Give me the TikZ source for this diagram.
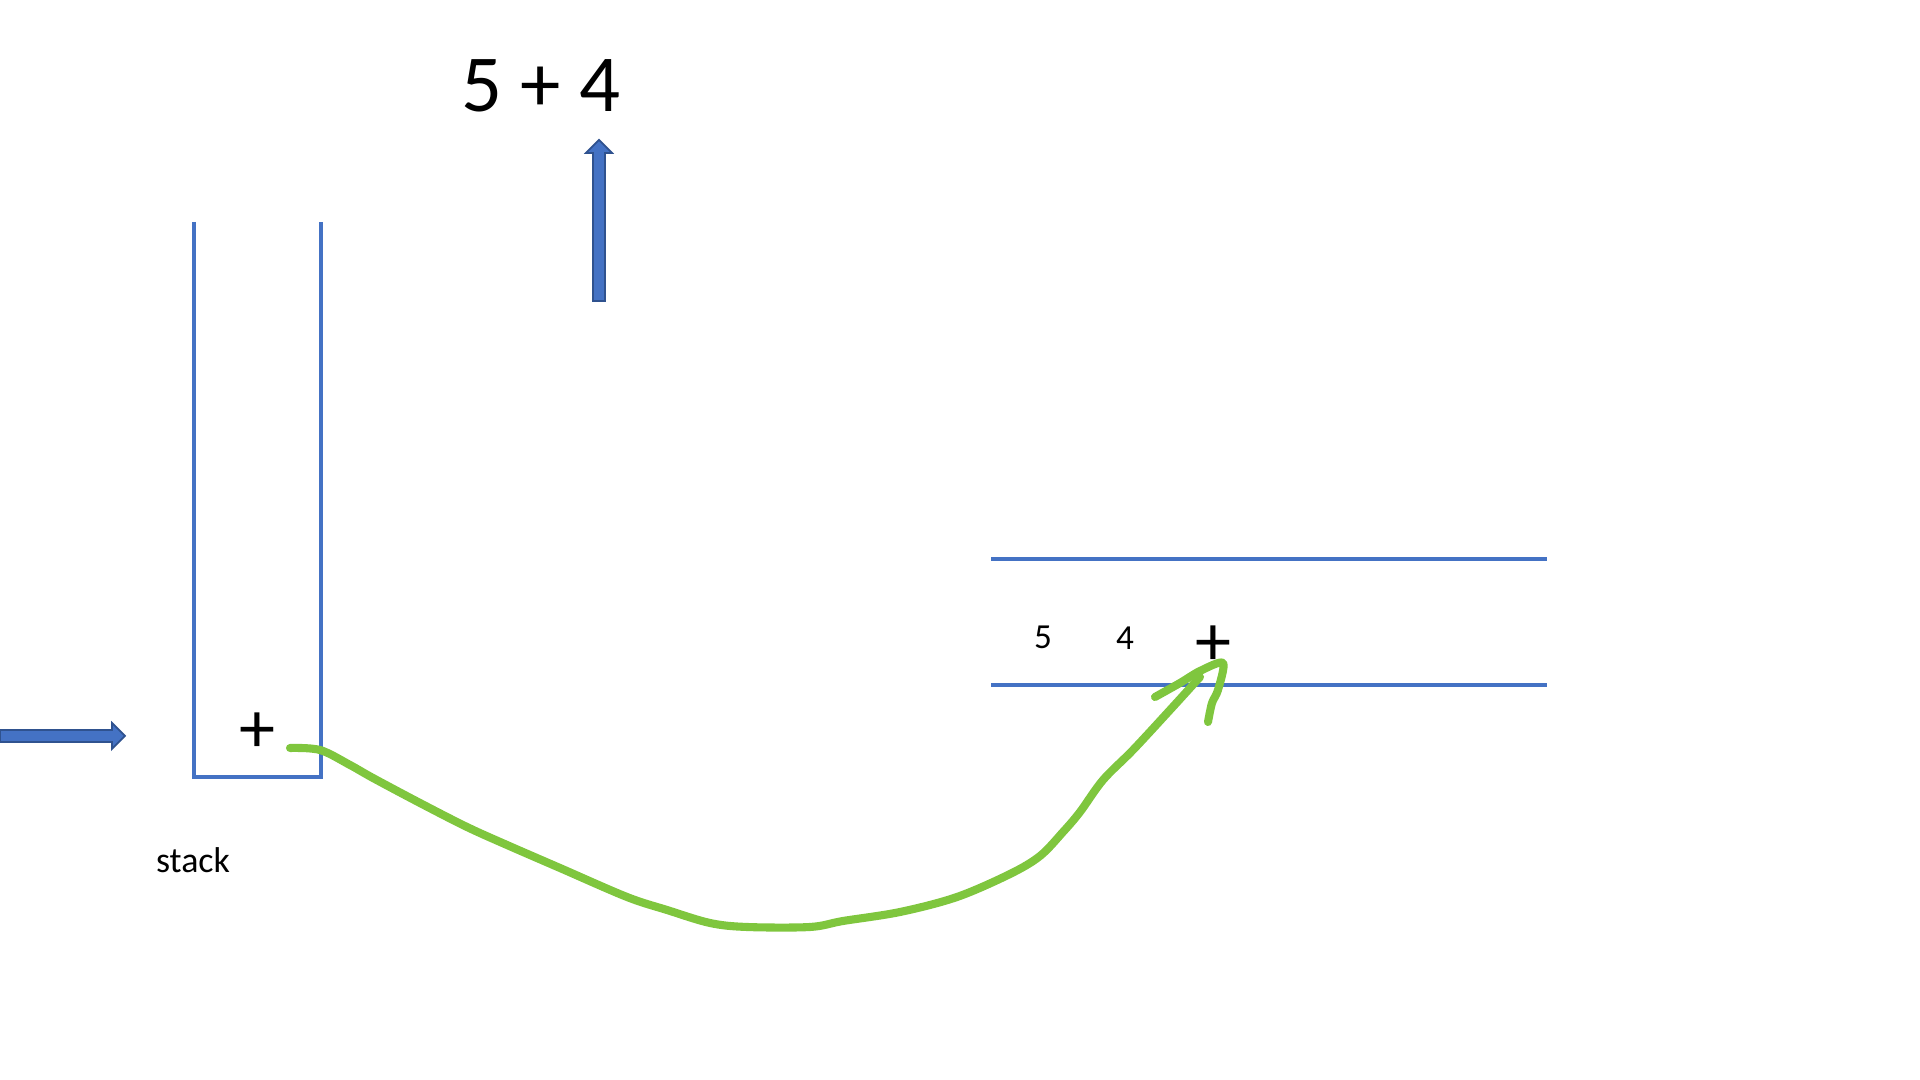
\documentclass[tikz,border=0pt]{standalone}
\usepackage{fontspec}
\setmainfont{Carlito}
\definecolor{stackblue}{HTML}{4472C4}
\definecolor{edgeblue}{HTML}{2F528F}
\definecolor{pengreen}{HTML}{7FC63E}
\begin{document}
\begin{tikzpicture}[x=0.01cm,y=-0.01cm,
		wall/.style={draw=stackblue,line width=1.15pt},
		rail/.style={draw=stackblue,line width=1.4pt},
		blockarrow/.style={fill=stackblue,draw=edgeblue,line width=0.5pt,line join=miter},
		pen/.style={draw=pengreen,line width=2.3pt,line cap=round,line join=round},
		sign/.style={inner sep=0pt,font=\fontsize{20.5}{24}\selectfont},
		digit/.style={inner sep=0pt,font=\fontsize{10}{12}\selectfont}]
				\useasboundingbox (0,0) rectangle (1920,1080);
				\coordinate (S1) at (194,222);
				\coordinate (S2) at (194,777);
				\coordinate (S3) at (321,777);
				\coordinate (S4) at (321,222);
				\coordinate (R1) at (991,559);
				\coordinate (R2) at (1547,559);
				\coordinate (R3) at (991,685);
				\coordinate (R4) at (1547,685);
				\coordinate (G0) at (290,748);
				\coordinate (G1) at (1200,677);
				\coordinate (H0) at (1155,697);
				\coordinate (H1) at (1208,722);
				\draw[wall,line join=miter] (S1) -- (S2) -- (S3) -- (S4);
				\draw[rail] (R1) -- (R2);
				\draw[rail] (R3) -- (R4);
				\filldraw[blockarrow] (0,730) -- (112,730) -- (112,723) -- (125,736) -- (112,749) -- (112,742) -- (0,742) -- cycle;
				\filldraw[blockarrow] (593,301) -- (593,153) -- (586,153) -- (599,140) -- (612,153) -- (605,153) -- (605,301) -- cycle;
				\node[inner sep=0pt,font=\fontsize{23}{28}\selectfont] (expr) at (541,86) {5 + 4};
				\node[sign] (top) at (257,733) {+};
				\node[inner sep=0pt,font=\fontsize{10.2}{12}\selectfont] (stacklabel) at (193,860) {stack};
				\node[digit] (q5) at (1043,637) {5};
				\node[digit] (q4) at (1125,638) {4};
				\node[sign] (qplus) at (1213,646) {+};
				\draw[pen] plot[smooth,tension=0.55] coordinates {(G0) (320,750) (350,765) (373,778) (420,803) (467,827) (507,845) (560,868) (627,897) (667,910) (710,923) (747,927) (810,927) (843,921) (900,912) (957,897) (1010,874) (1040,856) (1063,832) (1080,812) (1103,780) (1133,750) (1170,710) (G1)};
				\draw[pen] plot[smooth,tension=0.5] coordinates {(H0) (1180,683) (1200,671) (1223,663) (1218,690) (1212,703) (H1)};
\end{tikzpicture}
\end{document}
